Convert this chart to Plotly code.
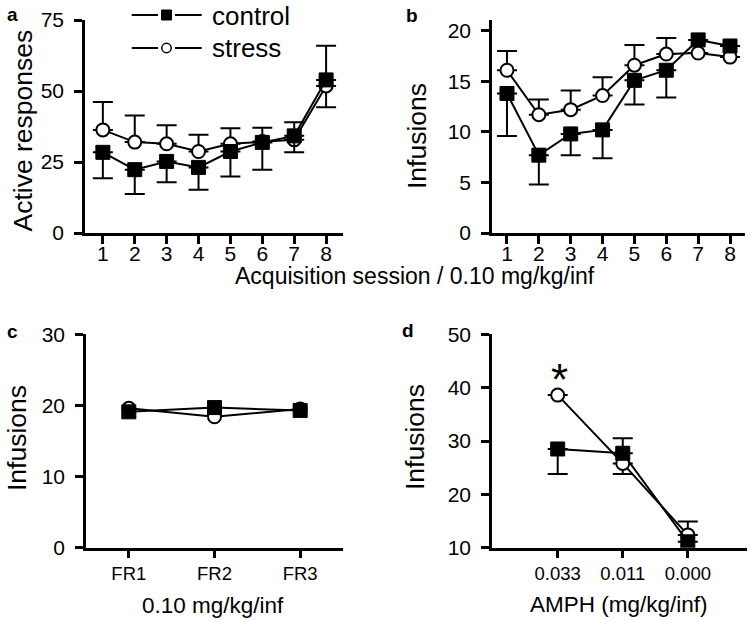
import plotly.graph_objects as go

W, H = 751, 620
FONT = "Liberation Sans, Arial, sans-serif"
OFF = 0  # body margin removed by the post script below

# ---------------- data ----------------
sessions = [1, 2, 3, 4, 5, 6, 7, 8]

a_control = [28.4, 22.3, 25.2, 23.1, 28.7, 31.9, 34.2, 53.9]
a_control_minus = [9.1, 8.6, 7.3, 7.9, 8.8, 9.6, 5.8, 0]
a_control_plus = [0, 0, 0, 0, 0, 0, 0, 12.0]
a_stress = [36.3, 32.0, 31.4, 28.7, 31.4, 32.2, 32.8, 51.8]
a_stress_plus = [9.8, 9.4, 6.5, 5.9, 5.5, 4.9, 6.2, 0]
a_stress_minus = [0, 0, 0, 0, 0, 0, 0, 7.5]

b_control = [13.8, 7.7, 9.8, 10.2, 15.1, 16.1, 19.1, 18.5]
b_control_minus = [4.2, 2.9, 2.1, 2.8, 2.4, 2.7, 0, 0]
b_stress = [16.1, 11.7, 12.2, 13.6, 16.6, 17.7, 17.8, 17.4]
b_stress_plus = [1.9, 1.5, 1.9, 1.8, 2.0, 1.6, 0, 0]

c_schedules = ["FR1", "FR2", "FR3"]
c_control = [19.1, 19.7, 19.3]
c_stress = [19.6, 18.4, 19.5]

d_doses = ["0.033", "0.011", "0.000"]
d_control = [28.5, 27.7, 11.1]
d_control_plus = [0, 2.8, 0]
d_control_minus = [4.7, 0, 0]
d_stress = [38.6, 25.8, 12.4]
d_stress_plus = [0, 0, 2.5]
d_stress_minus = [0, 2.0, 0]

a_ticks = [0, 25, 50, 75]
b_ticks = [0, 5, 10, 15, 20]
c_ticks = [0, 10, 20, 30]
d_ticks = [10, 20, 30, 40, 50]


# ---------------- helpers ----------------
def px(x):
    return (x - OFF) / W


def py(y):
    return 1 - (y - OFF) / H


def err(plus, minus):
    return dict(type="data", symmetric=False, array=plus, arrayminus=minus,
                color="black", thickness=2, width=10)


CTRL_MARK = dict(symbol="square", size=14, color="black", line=dict(color="black", width=1))
STR_MARK = dict(symbol="circle", size=13, color="white", line=dict(color="black", width=2))
LINE = dict(color="black", width=2)

fig = go.Figure()


def add_pair(xs, ctrl, strs, xa, ya, ce=None, se=None):
    fig.add_trace(go.Scatter(x=xs, y=strs, mode="lines+markers", name="stress",
                             marker=STR_MARK, line=LINE, error_y=se,
                             xaxis=xa, yaxis=ya, showlegend=False))
    fig.add_trace(go.Scatter(x=xs, y=ctrl, mode="lines+markers", name="control",
                             marker=CTRL_MARK, line=LINE, error_y=ce,
                             xaxis=xa, yaxis=ya, showlegend=False))


add_pair(sessions, a_control, a_stress, "x", "y",
         err(a_control_plus, a_control_minus), err(a_stress_plus, a_stress_minus))
add_pair(sessions, b_control, b_stress, "x2", "y2",
         err([0] * 8, b_control_minus), err(b_stress_plus, [0] * 8))
add_pair(c_schedules, c_control, c_stress, "x3", "y3")
add_pair(d_doses, d_control, d_stress, "x4", "y4",
         err(d_control_plus, d_control_minus), err(d_stress_plus, d_stress_minus))

axis_common = dict(showline=True, linecolor="black", linewidth=2.5, ticks="outside",
                   ticklen=8, tickwidth=2.5, tickcolor="black", showgrid=False,
                   zeroline=False, color="black", automargin=False)

tick_big = dict(family=FONT, size=21, color="black")
tick_small = dict(family=FONT, size=18.5, color="black")

fig.update_layout(
    template="none",
    width=W, height=H,
    margin=dict(l=0, r=0, t=0, b=0, pad=0, autoexpand=False),
    paper_bgcolor="white", plot_bgcolor="white",
    showlegend=False,
    font=dict(family=FONT, color="black"),
    xaxis=dict(axis_common, domain=[px(85), px(343)], range=[0.44, 8.53],
               tickvals=sessions, tickfont=tick_big, anchor="y", ticklabelstandoff=-8),
    yaxis=dict(axis_common, domain=[py(233), py(20)], range=[0, 75],
               tickvals=a_ticks, tickfont=tick_big, anchor="x", ticklabelstandoff=6),
    xaxis2=dict(axis_common, domain=[px(492), px(745)], range=[0.53, 8.47],
                tickvals=sessions, tickfont=tick_big, anchor="y2", ticklabelstandoff=-8),
    yaxis2=dict(axis_common, domain=[py(233), py(20)], range=[0, 21.07],
                tickvals=b_ticks, tickfont=tick_big, anchor="x2", ticklabelstandoff=6),
    xaxis3=dict(axis_common, domain=[px(86), px(343)], range=[-0.5, 2.5], type="category",
                tickfont=tick_small, anchor="y3", ticklabelstandoff=-1),
    yaxis3=dict(axis_common, domain=[py(547.7), py(334.3)], range=[0, 30],
                tickvals=c_ticks, tickfont=tick_big, anchor="x3", ticklabelstandoff=6),
    xaxis4=dict(axis_common, domain=[px(492), px(747)], range=[-1.01, 2.91], type="category",
                tickfont=tick_small, anchor="y4", ticklabelstandoff=-1),
    yaxis4=dict(axis_common, domain=[py(547.7), py(334.3)], range=[10, 50],
                tickvals=d_ticks, tickfont=tick_big, anchor="x4", ticklabelstandoff=6),
)

ann = []


def text(x, y, s, size, angle=0, bold=False, xanchor="center"):
    ann.append(dict(x=px(x), y=py(y), xref="paper", yref="paper", text=s,
                    showarrow=False, textangle=angle, xanchor=xanchor, yanchor="middle",
                    font=dict(family=FONT, size=size, color="black",
                              weight="bold" if bold else "normal")))


# panel letters
text(12, 15, "a", 19, bold=True)
text(412, 15.4, "b", 19, bold=True)
text(12, 331.5, "c", 19, bold=True)
text(408, 330.5, "d", 19, bold=True)

# axis titles
text(23, 130.5, "Active responses", 26.5, angle=-90)
text(417, 136, "Infusions", 26.5, angle=-90)
text(17, 438, "Infusions", 26.5, angle=-90)
text(415, 437, "Infusions", 26.5, angle=-90)
text(415, 276, "Acquisition session / 0.10 mg/kg/inf", 23)
text(213, 605.2, "0.10 mg/kg/inf", 22.5)
text(619, 604.9, "AMPH (mg/kg/inf)", 22.5)

# legend labels
text(210, 16, "control", 26, xanchor="left")
text(210, 47.7, "stress", 26, xanchor="left")

# significance asterisk
ann.append(dict(x=d_doses[0], y=41.6, xref="x4", yref="y4", text="*", showarrow=False,
                xanchor="center", yanchor="middle",
                font=dict(family=FONT, size=44, color="black")))

fig.update_layout(annotations=ann)

# legend keys (drawn in paper space)
shapes = []
for yy in (15, 48):
    for x0, x1 in ((131.7, 158), (175, 201.7)):
        shapes.append(dict(type="line", xref="paper", yref="paper",
                           x0=px(x0), x1=px(x1), y0=py(yy), y1=py(yy),
                           line=dict(color="black", width=2)))
shapes.append(dict(type="rect", xref="paper", yref="paper",
                   x0=px(161.5), x1=px(171.5), y0=py(20), y1=py(10),
                   fillcolor="black", line=dict(color="black", width=1)))
shapes.append(dict(type="circle", xref="paper", yref="paper",
                   x0=px(161.8), x1=px(171.2), y0=py(52.7), y1=py(43.3),
                   fillcolor="white", line=dict(color="black", width=1.5)))
fig.update_layout(shapes=shapes)

fig.write_html("out.html", config={"displayModeBar": False},
               post_script="document.body.style.margin='0px';")
